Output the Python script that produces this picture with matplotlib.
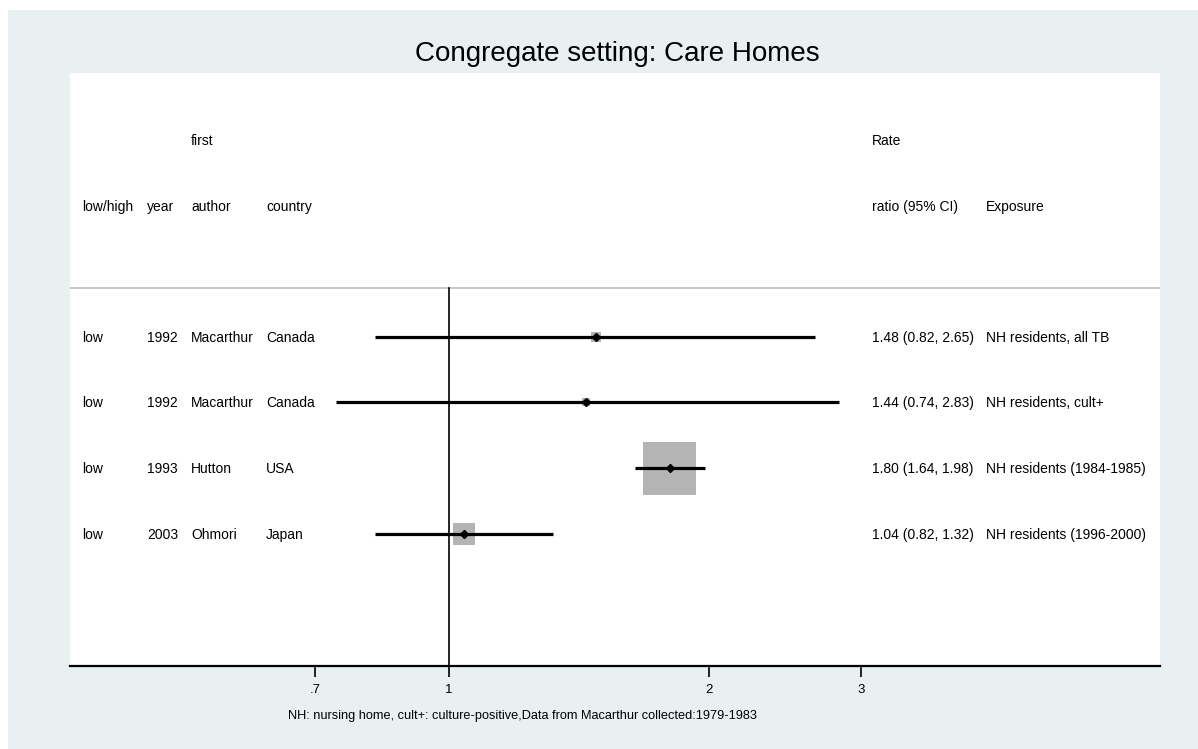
import matplotlib
matplotlib.use("Agg")
import matplotlib.pyplot as plt
from matplotlib.patches import Rectangle
from matplotlib.transforms import blended_transform_factory
import numpy as np

# Study data
risk_level = ["low", "low", "low", "low"]
years = ["1992", "1992", "1993", "2003"]
authors = ["Macarthur", "Macarthur", "Hutton", "Ohmori"]
countries = ["Canada", "Canada", "USA", "Japan"]
rate_ratio = [1.48, 1.44, 1.80, 1.04]
ci_low = [0.82, 0.74, 1.64, 0.82]
ci_high = [2.65, 2.83, 1.98, 1.32]
weights = [2.9, 1.9, 81.3, 13.9]
exposure = ["NH residents, all TB", "NH residents, cult+",
            "NH residents (1984-1985)", "NH residents (1996-2000)"]
tick_values = [0.7, 1, 2, 3]
tick_labels = [".7", "1", "2", "3"]

plt.rcParams["font.family"] = ["Liberation Sans", "DejaVu Sans"]

W, H = 1198, 749
BG = "#E8F0F2"
fig = plt.figure(figsize=(W / 100, H / 100), dpi=100)
fig.patch.set_facecolor(BG)
# thin white border strips at top and left
fig.patches.append(Rectangle((0, 1 - 10 / H), 1, 10 / H, transform=fig.transFigure,
                             facecolor="white", edgecolor="none"))
fig.patches.append(Rectangle((0, 0), 8 / W, 1, transform=fig.transFigure,
                             facecolor="white", edgecolor="none"))

left, right, top, bottom = 70, 1160, 73, 666
ax = fig.add_axes([left / W, 1 - bottom / H, (right - left) / W, (bottom - top) / H])
ax.set_facecolor("white")
ax.set_xscale("log")
ax.set_xlim(0.364, 6.656)
ax.set_ylim(6, -3)

for s in ["top", "left", "right"]:
    ax.spines[s].set_visible(False)
ax.spines["bottom"].set_linewidth(1.6)
ax.set_yticks([])
ax.set_xticks(tick_values)
ax.set_xticklabels(tick_labels, fontsize=9.5)
ax.xaxis.set_minor_locator(matplotlib.ticker.NullLocator())
ax.tick_params(axis="x", length=8, width=1.2, pad=5)

rows = np.arange(1, len(rate_ratio) + 1)

# header separator and null line
ax.axhline(0.258, color="#BDBDBD", lw=1.2, zorder=1)
ax.plot([1, 1], [0.258, 6], color="black", lw=1.2, zorder=2)

# weight boxes (side proportional to sqrt of weight)
px_to_pt = 0.72
for y, rr, w in zip(rows, rate_ratio, weights):
    side_pt = 5.81 * np.sqrt(w) * px_to_pt
    ax.scatter([rr], [y], marker="s", s=side_pt ** 2, color="#B4B4B4",
               edgecolors="none", zorder=3)

# confidence intervals and point estimates
ax.hlines(rows, ci_low, ci_high, color="black", lw=2.3, zorder=4)
ax.plot(rate_ratio, rows, linestyle="none", marker="D", markersize=4.5,
        color="black", zorder=5)

tr = blended_transform_factory(ax.transAxes, ax.transData)
col_x = {"risk": (82 - left) / (right - left),
         "year": (147 - left) / (right - left),
         "author": (191 - left) / (right - left),
         "country": (266 - left) / (right - left),
         "rr": (872 - left) / (right - left),
         "exp": (986 - left) / (right - left)}
fs = 10
kw = dict(transform=tr, fontsize=fs, va="center", ha="left", color="black")

# column headers
ax.text(col_x["author"], -1.97, "first", **kw)
ax.text(col_x["rr"], -1.97, "Rate", **kw)
ax.text(col_x["risk"], -0.97, "low/high", **kw)
ax.text(col_x["year"], -0.97, "year", **kw)
ax.text(col_x["author"], -0.97, "author", **kw)
ax.text(col_x["country"], -0.97, "country", **kw)
ax.text(col_x["rr"], -0.97, "ratio (95% CI)", **kw)
ax.text(col_x["exp"], -0.97, "Exposure", **kw)

for y, r, yr, a, c, rr, lo, hi, e in zip(rows, risk_level, years, authors, countries,
                                          rate_ratio, ci_low, ci_high, exposure):
    ax.text(col_x["risk"], y + 0.015, r, **kw)
    ax.text(col_x["year"], y + 0.015, yr, **kw)
    ax.text(col_x["author"], y + 0.015, a, **kw)
    ax.text(col_x["country"], y + 0.015, c, **kw)
    ax.text(col_x["rr"], y + 0.015, f"{rr:.2f} ({lo:.2f}, {hi:.2f})", **kw)
    ax.text(col_x["exp"], y + 0.015, e, **kw)

fig.text(617 / W, 1 - 54 / H, "Congregate setting: Care Homes", fontsize=20,
         ha="center", va="center")
fig.text(522 / W, 1 - 716 / H,
         "NH: nursing home, cult+: culture-positive,Data from Macarthur collected:1979-1983",
         ha="center", va="center", fontsize=9.2)

fig.savefig("out.png", dpi=100, facecolor=fig.get_facecolor())
